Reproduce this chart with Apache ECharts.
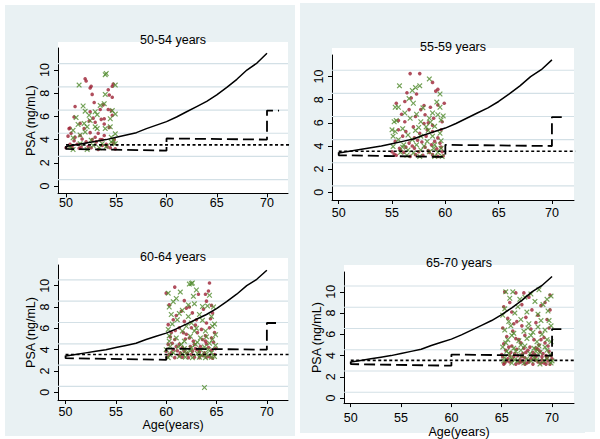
<!DOCTYPE html>
<html><head><meta charset="utf-8">
<script src="https://cdn.jsdelivr.net/npm/echarts@6/dist/echarts.min.js"></script>
<style>html,body{margin:0;padding:0;background:#fff}#c{width:600px;height:439px}</style>
</head><body><div id="c"></div>
<script>
// ---------- data ----------
const panelTitles = ['50-54 years', '55-59 years', '60-64 years', '65-70 years'];
const xTicks = [50, 55, 60, 65, 70];
const yTicks = [0, 2, 4, 6, 8, 10];
const gridVals = [0.55, 2.55, 4.55, 6.55, 8.55, 10.55];
const yName = 'PSA (ng/mL)';
const xName = 'Age(years)';

// solid curve
const curveX = [50, 51, 52, 53, 54, 55, 56, 57, 58, 59, 60, 61, 62, 63, 64, 65, 66, 67, 68, 69, 70];
const curveY = [3.4, 3.55, 3.7, 3.85, 4.0, 4.2, 4.4, 4.6, 4.95, 5.25, 5.55, 5.95, 6.4, 6.85, 7.3, 7.85, 8.5, 9.2, 10.0, 10.6, 11.45];
// dashed step
const stepX = [50, 50, 60, 60, 70, 70, 71.2];
const stepY = [3.45, 3.2, 3.05, 4.1, 4.0, 6.5, 6.5];
// dotted reference
const refX = [50, 72.2];
const refY = [3.55, 3.55];

const p1Red = [[51.9,9.25],[52.0,9.05],[52.4,8.45],[52.5,8.6],[54.7,8.8],[54.6,8.6],[52.6,7.9],[54.2,8.3],[54.3,7.85],[54.6,7.65],[52.8,7.2],[50.9,6.85],[53.7,7.0],[53.4,6.6],[54.2,6.6],[52.4,6.4],[54.5,6.5],[50.8,5.95],[52.7,5.85],[53.8,5.8],[54.6,6.1],[52.3,5.6],[53.5,5.75],[51.4,5.4],[52.9,5.5],[53.8,5.35],[51.8,4.95],[54.3,5.05],[50.3,4.95],[50.5,4.55],[51.4,4.35],[52.4,4.6],[53.2,4.55],[53.8,4.35],[50.8,3.9],[51.6,4.05],[52.9,4.2],[53.6,4.0],[50.4,3.6],[51.1,3.6],[52.0,3.8],[53.0,3.8],[54.0,3.6],[50.0,3.3],[51.5,3.35],[52.5,3.3],[53.2,3.15],[54.4,3.3],[54.9,3.2],[50.6,3.35],[53.6,3.5],[50.2,4.3],[50.4,5.0],[51.3,3.25],[52.2,3.4],[54.1,3.4],[54.7,3.7],[52.6,4.0],[53.4,4.0],[50.9,4.2],[54.8,4.0]];
const p1Green = [[53.9,9.6],[54.0,9.7],[51.3,8.7],[54.9,8.7],[53.9,7.9],[51.7,6.9],[53.4,6.95],[53.8,7.1],[51.9,6.45],[52.9,6.4],[54.6,6.5],[54.9,6.2],[53.1,6.15],[51.0,5.9],[52.3,6.1],[52.4,5.65],[51.8,5.4],[54.4,5.8],[51.2,5.3],[52.1,5.1],[52.9,5.1],[54.4,5.1],[53.9,4.95],[50.7,4.8],[51.4,4.4],[51.9,4.65],[53.1,4.95],[50.7,4.15],[52.5,3.95],[54.5,4.2],[54.9,4.5],[54.7,3.95],[50.4,3.4],[51.4,3.65],[52.7,3.5],[53.6,3.65],[54.5,3.8],[54.9,3.65],[50.7,3.15],[52.1,3.15],[54.0,3.4],[53.3,3.3]];

const p2Red = [[56.7,10.26],[57.6,10.26],[58.8,9.5],[59.3,8.9],[59.1,8.75],[56.4,8.6],[57.3,8.5],[56.8,8.15],[56.2,7.85],[58.0,7.5],[59.3,7.55],[55.4,7.7],[56.6,7.15],[57.7,7.15],[58.6,7.35],[55.9,6.75],[58.1,6.7],[57.2,6.55],[58.9,6.4],[56.2,6.1],[58.0,5.95],[58.8,5.8],[57.0,5.65],[55.6,5.4],[56.3,5.25],[57.6,5.1],[58.8,5.25],[59.6,5.4],[56.0,4.85],[57.1,4.7],[58.2,4.85],[59.3,4.7],[55.3,4.4],[56.6,4.25],[57.8,4.35],[58.7,4.1],[59.5,4.25],[55.7,3.8],[57.1,3.8],[58.1,3.9],[59.2,3.75],[55.0,3.5],[56.1,3.45],[57.5,3.5],[58.5,3.45],[59.7,3.5],[55.4,3.2],[56.7,3.1],[57.9,3.2],[59.3,3.1],[55.8,3.6],[57.2,3.25],[58.8,3.25],[59.8,3.15],[59.9,7.7],[59.7,6.1],[58.4,6.0],[55.6,6.2],[56.9,4.0],[58.4,3.6],[59.0,4.4],[56.3,3.9],[55.2,3.3],[59.6,3.9],[57.4,4.5],[58.3,5.4]];
const p2Green = [[58.5,9.8],[55.7,9.2],[57.6,9.2],[56.9,8.8],[57.2,9.05],[59.5,8.5],[56.6,8.1],[57.0,7.7],[55.6,7.35],[55.3,7.35],[59.2,7.8],[59.5,7.35],[57.9,7.3],[56.2,6.85],[57.3,6.75],[58.8,6.85],[56.7,6.4],[58.5,6.4],[59.3,6.7],[57.7,6.1],[59.6,6.25],[55.4,6.2],[58.6,6.05],[58.2,5.65],[56.0,5.5],[59.0,5.7],[57.2,5.35],[55.3,5.25],[58.4,5.35],[59.5,5.1],[56.5,4.95],[57.7,4.85],[58.8,4.85],[55.6,4.55],[56.9,4.55],[58.3,4.4],[59.6,4.45],[56.1,4.1],[57.3,4.1],[59.0,4.1],[55.1,3.95],[56.5,3.65],[57.7,3.65],[59.6,3.8],[55.8,3.45],[57.0,3.4],[58.5,3.5],[59.3,3.45],[56.4,3.2],[57.6,3.1],[59.0,3.1],[59.7,3.1],[55.0,5.4],[55.1,4.85],[55.2,6.1],[59.8,6.6],[57.5,5.6],[58.0,4.0],[56.0,3.9],[58.9,3.8]];

const p3Red = [[60.85,9.87],[60.0,9.3],[64.3,10.25],[64.2,9.5],[63.9,9.2],[63.2,9.2],[60.3,8.2],[61.8,8.6],[62.3,8.0],[64.0,8.55],[64.5,8.15],[61.5,7.6],[62.6,7.45],[64.6,7.45],[60.7,6.8],[61.8,6.65],[63.0,6.8],[64.0,6.5],[60.2,6.35],[61.3,6.05],[62.5,6.05],[63.5,5.9],[64.3,6.05],[60.5,5.6],[62.0,5.45],[63.1,5.6],[64.8,5.6],[60.85,4.95],[62.3,5.1],[63.6,4.95],[64.5,5.1],[60.2,4.5],[61.3,4.5],[62.8,4.5],[64.0,4.55],[60.7,4.0],[61.8,3.85],[63.1,4.0],[64.5,3.95],[60.3,3.55],[61.3,3.45],[62.5,3.55],[63.6,3.45],[64.8,3.55],[60.85,3.25],[62.2,3.25],[63.3,3.25],[64.3,3.35],[60.0,3.85],[61.6,4.2],[62.6,3.85],[64.2,4.2],[61.0,7.2],[62.0,7.9],[63.7,7.8],[62.9,6.3],[61.9,5.0],[60.4,5.2],[63.9,5.3],[62.7,4.8],[61.0,4.3],[63.4,4.3],[64.7,4.7],[60.5,3.7],[61.1,3.9],[62.1,3.6],[62.9,4.1],[63.8,3.7],[64.9,4.1],[60.1,3.3],[61.6,3.3],[62.8,3.3],[64.0,3.3],[64.6,3.2],[61.4,3.7],[63.3,3.8],[60.6,4.6],[62.4,4.3],[63.9,4.8],[61.7,5.6],[64.4,6.9],[60.9,5.8]];
const p3Green = [[62.3,10.15],[62.6,10.25],[62.5,10.2],[61.0,8.8],[60.7,8.5],[62.8,8.3],[62.2,8.2],[64.3,9.1],[63.6,8.05],[64.1,8.1],[61.6,7.7],[60.5,7.3],[63.3,7.3],[64.5,7.1],[62.2,7.1],[61.1,6.8],[62.5,6.5],[63.6,6.75],[60.2,5.9],[61.6,5.75],[62.8,5.75],[63.9,5.75],[64.6,6.2],[61.0,5.1],[62.4,5.25],[63.4,5.1],[64.6,4.95],[60.3,4.8],[61.8,4.8],[63.1,4.7],[64.3,4.6],[61.2,4.25],[62.5,4.15],[63.8,4.25],[60.0,4.0],[60.7,3.7],[62.0,3.7],[63.1,3.65],[64.5,3.7],[61.3,3.35],[62.6,3.25],[63.9,3.25],[64.8,3.35],[63.8,0.45],[60.2,9.3],[61.4,9.4],[63.0,9.6],[60.6,6.4],[64.8,6.4],[64.9,5.4],[63.0,6.0],[60.3,5.3],[64.0,5.2],[61.5,4.5],[62.9,4.5],[64.9,4.4],[60.4,4.3],[61.8,4.1],[63.4,4.0],[64.2,4.0],[60.4,3.5],[61.6,3.6],[62.4,3.9],[63.5,3.5],[64.0,3.6],[60.2,3.25],[61.9,3.3],[63.3,3.3],[64.5,3.3],[62.0,6.2],[61.3,7.4],[60.3,8.0],[64.7,8.0],[62.7,9.0]];

const p4Red = [[65.3,10.0],[66.4,9.9],[67.7,9.5],[69.8,9.7],[69.3,9.0],[65.2,8.6],[66.0,8.1],[67.0,8.8],[68.0,8.3],[68.9,8.7],[65.6,7.5],[66.5,7.2],[67.4,7.6],[68.4,7.1],[69.5,7.4],[65.1,6.6],[66.1,6.3],[67.0,6.8],[67.9,6.5],[68.8,6.2],[69.7,6.6],[65.5,5.8],[66.4,5.6],[67.3,5.9],[68.2,5.5],[69.2,5.7],[65.2,5.1],[66.0,4.9],[66.9,5.2],[67.8,4.8],[68.7,5.0],[69.6,4.9],[65.4,4.5],[65.9,4.3],[66.5,4.6],[67.1,4.2],[67.6,4.5],[68.1,4.3],[68.6,4.6],[69.1,4.2],[69.7,4.4],[65.1,3.9],[65.6,3.7],[66.2,3.9],[66.8,3.6],[67.3,3.8],[67.9,3.7],[68.4,3.9],[69.0,3.6],[69.5,3.8],[70.0,3.7],[65.3,3.3],[65.8,3.4],[66.4,3.2],[66.9,3.4],[67.5,3.3],[68.1,3.2],[68.6,3.4],[69.2,3.3],[69.8,3.2],[65.0,4.1],[66.6,4.0],[68.3,4.1],[69.4,4.0],[65.5,3.5],[66.0,3.6],[66.7,3.3],[67.1,3.5],[67.7,3.4],[68.3,3.6],[68.9,3.3],[69.6,3.5],[65.2,3.2],[67.3,3.2],[69.4,3.2],[65.8,4.0],[67.0,3.9],[68.0,4.0],[69.0,3.9],[69.9,4.0],[66.3,4.2],[67.4,4.3],[68.8,4.4],[65.7,4.8],[67.2,4.7],[68.4,4.7],[69.3,5.2],[66.7,5.5],[68.9,5.5],[66.2,7.0],[68.6,7.8],[69.8,8.3],[67.2,9.9],[65.8,9.0]];
const p4Green = [[65.4,10.0],[66.1,10.0],[68.7,10.2],[69.9,9.6],[65.8,9.4],[66.8,9.3],[67.3,9.5],[68.3,9.1],[69.1,8.8],[65.3,8.4],[66.3,8.0],[67.5,8.1],[68.6,7.9],[69.6,8.2],[65.7,7.2],[66.9,7.4],[67.7,7.0],[68.9,7.3],[69.9,6.8],[65.3,6.4],[66.2,6.1],[67.2,6.3],[68.1,6.2],[69.3,6.4],[65.6,5.5],[66.7,5.4],[67.5,5.6],[68.5,5.3],[69.5,5.5],[65.1,4.8],[66.2,4.7],[67.3,4.9],[68.2,4.7],[69.3,4.8],[65.7,4.2],[66.4,4.4],[67.0,4.0],[67.8,4.2],[68.8,4.3],[69.8,4.1],[65.2,3.5],[65.9,3.8],[66.6,3.5],[67.2,3.3],[67.9,3.5],[68.5,3.6],[69.2,3.5],[69.9,3.3],[66.0,3.3],[68.8,3.2],[65.1,7.8],[66.6,8.6],[67.9,9.8],[69.5,9.3],[65.9,6.8],[67.6,6.6],[68.6,6.7],[69.7,7.3],[66.0,5.9],[67.9,5.9],[69.0,6.0],[65.4,5.2],[66.9,5.0],[68.7,4.9],[69.9,5.3],[65.5,4.4],[66.9,4.5],[68.4,4.4],[69.5,4.5],[65.3,3.8],[66.3,3.6],[67.5,3.7],[68.2,3.8],[69.5,3.7],[70.0,3.5]];

const redSets = [p1Red, p2Red, p3Red, p4Red];
const greenSets = [p1Green, p2Green, p3Green, p4Green];

// ---------- layout ----------
const FONT = 'Liberation Sans, Arial, Helvetica, sans-serif';
const L = [
  {left:58,  top:48,  w:230, h:145.3, x:[49.2,72.09], y:[-0.63,11.9], wt:42,  yName:true,  xName:false, lm:3, ygap:19, xgap:17, tx:173, ty:40},
  {left:332, top:55,  w:242, h:145,   x:[49.37,72.07], y:[-0.67,11.87], wt:48, yName:false, xName:false, lm:6, ygap:19, xgap:17, tx:453, ty:47},
  {left:58,  top:265, w:230, h:135,   x:[49.25,72.1], y:[-0.72,11.94], wt:258, yName:true, xName:true,  lm:5, ygap:19, xgap:17, tx:173, ty:257},
  {left:344, top:272, w:230, h:131.3, x:[49.33,72.18], y:[-0.47,11.87], wt:265, yName:true, xName:true, lm:8, ygap:21, xgap:19, tx:459, ty:263}
];

const BG = '#e9f1f3';
const RED = '#9c2234', GREEN = '#4f8a2c';
const XSYM = 'path://M0,1.5L1.5,0L5,3.5L8.5,0L10,1.5L6.5,5L10,8.5L8.5,10L5,6.5L1.5,10L0,8.5L3.5,5Z';

const grids = [], xAxes = [], yAxes = [], series = [], graphics = [];
[[0,0,5,439],[0,0,300,5],[295,0,5,439],[300,0,300,3],[595,0,5,439],[0,436,300,3],[300,433,300,6],[585,432,15,7]]
  .forEach(r => graphics.push({type:'rect', silent:true, shape:{x:r[0], y:r[1], width:r[2], height:r[3]}, style:{fill:'#ffffff'}}));

L.forEach((p, i) => {
  grids.push({left:p.left, top:p.top, width:p.w, height:p.h, containLabel:false,
    show:true, backgroundColor:'#ffffff', borderWidth:0});
  graphics.push({type:'rect', silent:true, shape:{x:p.left, y:p.wt, width:p.w, height:p.top - p.wt}, style:{fill:'#ffffff'}});
  graphics.push({type:'text', x:p.tx, y:p.ty, style:{text:panelTitles[i], fill:'#000', font:'12.5px ' + FONT, textAlign:'center', textVerticalAlign:'middle'}, z:10});
  xAxes.push({
    type:'value', gridIndex:i, min:p.x[0], max:p.x[1],
    axisLine:{show:true, onZero:false, lineStyle:{color:'#000', width:1}},
    axisTick:{show:true, length:4, customValues:xTicks, lineStyle:{color:'#000'}},
    axisLabel:{customValues:xTicks, margin:p.lm, color:'#000', fontSize:12.5, fontFamily:FONT},
    splitLine:{show:false},
    name: p.xName ? xName : '', nameLocation:'middle', nameGap:p.xgap,
    nameTextStyle:{color:'#000', fontSize:12.5, fontFamily:FONT}
  });
  yAxes.push({
    type:'value', gridIndex:i, min:p.y[0], max:p.y[1],
    axisLine:{show:true, onZero:false, lineStyle:{color:'#000', width:1}},
    axisTick:{show:true, length:4, customValues:yTicks, lineStyle:{color:'#000'}},
    axisLabel:{customValues:yTicks, rotate:90, margin:7, color:'#000', fontSize:12.5, fontFamily:FONT},
    splitLine:{show:false},
    name: p.yName ? yName : '', nameLocation:'middle', nameGap:p.ygap, nameRotate:90,
    nameTextStyle:{color:'#000', fontSize:12.5, fontFamily:FONT}
  });
  // horizontal gridlines spanning the plot width
  gridVals.forEach(v => {
    series.push({type:'line', xAxisIndex:i, yAxisIndex:i, data:[[p.x[0], v], [p.x[1], v]], symbol:'none',
      lineStyle:{color:'#d3e0e6', width:1.2}, z:2, silent:true});
  });
  series.push({type:'scatter', xAxisIndex:i, yAxisIndex:i, data:redSets[i], symbol:'circle', symbolSize:3.6,
    itemStyle:{color:RED}, z:7, silent:true});
  series.push({type:'scatter', xAxisIndex:i, yAxisIndex:i, data:greenSets[i], symbol:XSYM, symbolSize:5.5,
    itemStyle:{color:GREEN}, z:8, silent:true});
  series.push({type:'line', xAxisIndex:i, yAxisIndex:i, data:curveX.map((x,k)=>[x,curveY[k]]), symbol:'none',
    lineStyle:{color:'#000', width:1.5}, z:9, silent:true});
  series.push({type:'line', xAxisIndex:i, yAxisIndex:i, data:stepX.map((x,k)=>[x,stepY[k]]), symbol:'none',
    lineStyle:{color:'#000', width:1.8, type:[11,5]}, z:9, silent:true});
  series.push({type:'line', xAxisIndex:i, yAxisIndex:i, data:refX.map((x,k)=>[x,refY[k]]), symbol:'none',
    lineStyle:{color:'#000', width:1.6, type:[3,2.5]}, z:9, silent:true});
});

const chart = echarts.init(document.getElementById('c'), null, {renderer:'svg'});
chart.setOption({
  animation:false,
  backgroundColor:BG,
  grid:grids, xAxis:xAxes, yAxis:yAxes, series:series,
  graphic:graphics
});
</script>
</body></html>
